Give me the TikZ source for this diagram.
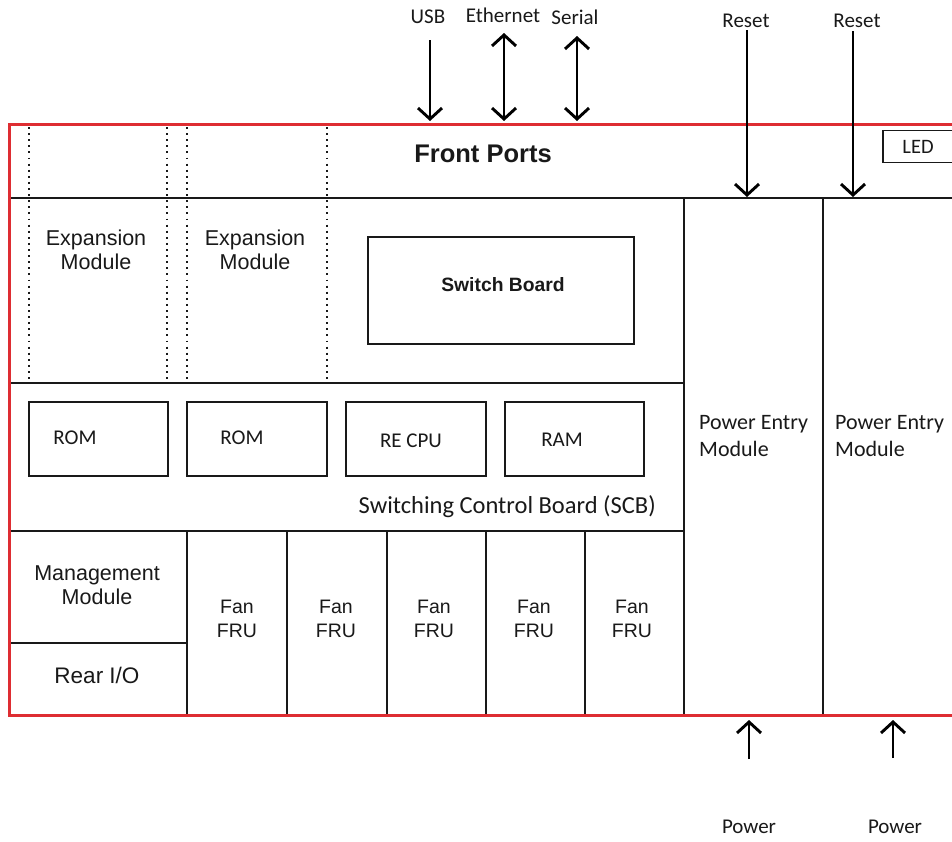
\documentclass[tikz,border=0pt]{standalone}
\usepackage{fontspec}
\usetikzlibrary{arrows.meta}
\newfontfamily\arialf{Liberation Sans}
\newfontfamily\calf{Carlito}
\definecolor{framered}{RGB}{222,45,50}
\definecolor{ink}{RGB}{25,25,25}
\begin{document}
\begin{tikzpicture}[x=1pt,y=-1pt,
  grid/.style={line width=1.8pt, draw=ink},
  dots/.style={line width=1.9pt, draw=ink, dash pattern=on 1.9pt off 4.2pt},
  boxnode/.style={draw=ink, line width=1.8pt, inner sep=0pt, fill=none},
  arr/.style={line width=2.9pt, draw=black, -{Straight Barb[length=11pt,width=24pt]}},
  darr/.style={line width=2.9pt, draw=black, {Straight Barb[length=11pt,width=24pt]}-{Straight Barb[length=11pt,width=24pt]}},
  atext/.style={font=\arialf\fontsize{21.5}{24}\selectfont, text=ink, align=center, inner sep=0pt},
  ctext/.style={font=\calf\fontsize{21}{27}\selectfont, text=ink, inner sep=0pt},
]
\useasboundingbox (0,0) rectangle (952,841);
\clip (0,0) rectangle (952,841);
\fill[white] (0,0) rectangle (952,841);

% dotted expansion slot lines
\foreach \xx/\nm in {29/d1,167/d2,187/d3,327/d4}{
  \coordinate (\nm t) at (\xx,127);
  \coordinate (\nm b) at (\xx,380);
  \draw[dots] (\nm t) -- (\nm b);
}

% main grid lines
\draw[grid] (9,198) -- (960,198);
\draw[grid] (684,198) -- (684,715);
\draw[grid] (823,198) -- (823,715);
\draw[grid] (9,383) -- (684,383);
\draw[grid] (9,531) -- (684,531);
\draw[grid] (9,643) -- (187,643);
\foreach \xx in {187,287,387,486,585}{
  \draw[grid] (\xx,531) -- (\xx,715);
}

% Front ports
\node[font=\arialf\bfseries\fontsize{25.5}{28}\selectfont, text=ink, inner sep=0pt] (front) at (483,154) {Front Ports};
\node[boxnode, minimum width=74pt, minimum height=32pt] (ledbox) at (920,146.5) {};
\node[ctext, font=\calf\fontsize{20.5}{24}\selectfont] (led) at (918,147) {LED};

% expansion modules
\node[atext] (exp1) at (96,250) {Expansion\\Module};
\node[atext] (exp2) at (255,250) {Expansion\\Module};

% switch board
\node[boxnode, minimum width=266pt, minimum height=107pt] (sw) at (501,290.5) {};
\node[font=\arialf\bfseries\fontsize{19.3}{22}\selectfont, text=ink, inner sep=0pt] (swt) at (503,285) {Switch Board};

% SCB boxes
\node[boxnode, minimum width=139pt, minimum height=74pt] (rom1) at (98.5,439) {};
\node[boxnode, minimum width=140pt, minimum height=74pt] (rom2) at (257,439) {};
\node[boxnode, minimum width=140pt, minimum height=74pt] (cpu) at (416,439) {};
\node[boxnode, minimum width=139pt, minimum height=74pt] (ram) at (574.5,439) {};
\node[ctext] (rom1t) at (75,438) {ROM};
\node[ctext] (rom2t) at (242,438) {ROM};
\node[ctext] (cput) at (411,441) {RE CPU};
\node[ctext] (ramt) at (562,440) {RAM};
\node[ctext, anchor=east, font=\calf\fontsize{24.5}{27}\selectfont] (scb) at (656,507) {Switching Control Board (SCB)};

% bottom modules
\node[atext] (mgmt) at (97,585) {Management\\Module};
\node[atext, font=\arialf\fontsize{22.5}{24}\selectfont] (rear) at (97,675) {Rear I/O};
\foreach \xx/\nm in {237/f1,336/f2,434/f3,534/f4,632/f5}{
  \node[atext, font=\arialf\fontsize{19.5}{24}\selectfont] (\nm) at (\xx,619) {Fan\\FRU};
}

% power entry modules
\node[ctext, align=left, anchor=west, font=\calf\fontsize{22}{27}\selectfont] (pem1) at (699,436.5) {Power Entry\\Module};
\node[ctext, align=left, anchor=west, font=\calf\fontsize{22}{27}\selectfont] (pem2) at (835,436.5) {Power Entry\\Module};

% outer red frame
\draw[framered, line width=3pt] (970,124) -- (9,124) -- (9,715) -- (970,715);

% top labels and arrows
\node[ctext] (usb) at (428,17) {USB};
\node[ctext] (eth) at (503,15) {Ethernet};
\node[ctext] (ser) at (575,17) {Serial};
\node[ctext] (rst1) at (746,21) {Reset};
\node[ctext] (rst2) at (857,21) {Reset};
\node[ctext] (pw1) at (749,827) {Power};
\node[ctext] (pw2) at (895,827) {Power};

\coordinate (usbA) at (430,40);  \coordinate (usbB) at (430,121);
\coordinate (ethA) at (504,33);  \coordinate (ethB) at (504,121);
\coordinate (serA) at (577,36);  \coordinate (serB) at (577,121);
\coordinate (r1A) at (747,30);   \coordinate (r1B) at (747,197);
\coordinate (r2A) at (853,31);   \coordinate (r2B) at (853,197);
\coordinate (p1A) at (749,759);  \coordinate (p1B) at (749,720);
\coordinate (p2A) at (893,758);  \coordinate (p2B) at (893,720);

\draw[arr] (usbA) -- (usbB);
\draw[darr] (ethA) -- (ethB);
\draw[darr] (serA) -- (serB);
\draw[arr] (r1A) -- (r1B);
\draw[arr] (r2A) -- (r2B);
\draw[arr] (p1A) -- (p1B);
\draw[arr] (p2A) -- (p2B);
\end{tikzpicture}
\end{document}
